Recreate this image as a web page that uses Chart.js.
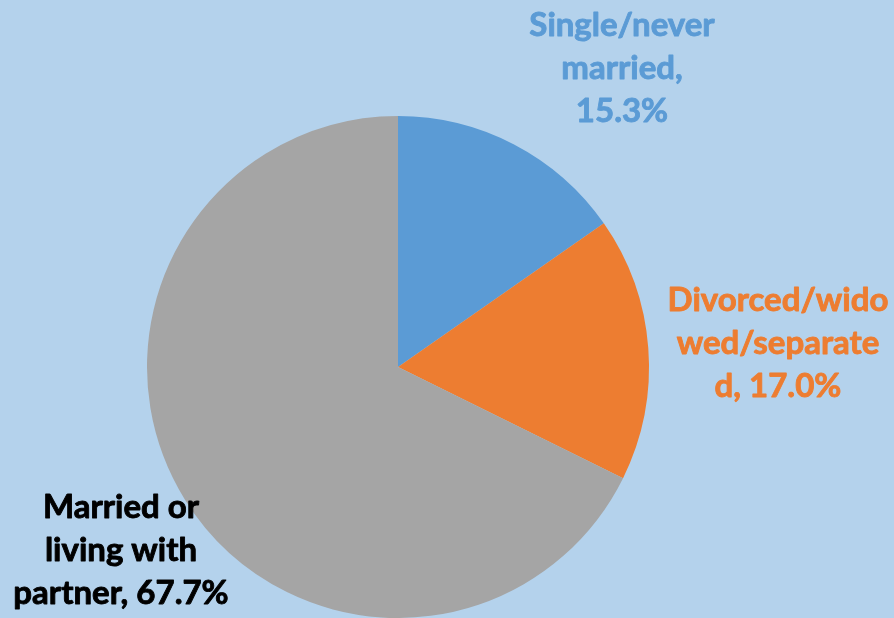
<!DOCTYPE html>
<html>
<head>
<meta charset="utf-8">
<script src="https://cdn.jsdelivr.net/npm/chart.js@4/dist/chart.umd.min.js"></script>
<style>
  html, body { margin: 0; padding: 0; background: #b4d2ec; }
  #wrap { width: 894px; height: 618px; position: relative; }
</style>
</head>
<body>
<div id="wrap"><canvas id="myChart" width="894" height="618"></canvas></div>
<script>
// data
var categories = ['Single/never married', 'Divorced/widowed/separated', 'Married or living with partner'];
var shares = [15.3, 17.0, 67.7];
var sliceColors = ['#5b9bd5', '#ed7d31', '#a5a5a5'];
var labelColors = ['#5b9bd5', '#ed7d31', '#000000'];
// label lines as wrapped in the picture
var labelLines = [
  ['Single/never', 'married,', '15.3%'],
  ['Divorced/wido', 'wed/separate', 'd, 17.0%'],
  ['Married or', 'living with', 'partner, 67.7%']
];
// label centre offsets from the pie centre (x, first line y)
var labelPos = [[224, -342], [380, -67], [-277, 140]];

const ctx = document.getElementById('myChart');

var bgPlugin = {
  id: 'bg',
  beforeDraw: function (chart) {
    var c = chart.ctx;
    c.save();
    c.fillStyle = '#b4d2ec';
    c.fillRect(0, 0, chart.width, chart.height);
    c.restore();
  }
};

var labelPlugin = {
  id: 'sliceLabels',
  afterDraw: function (chart) {
    var c = chart.ctx;
    var arc = chart.getDatasetMeta(0).data[0];
    var cx = arc.x, cy = arc.y;
    c.save();
    c.font = 'bold 33px Lato';
    c.textAlign = 'center';
    c.textBaseline = 'middle';
    c.lineWidth = 0.9;
    c.lineJoin = 'round';
    for (var i = 0; i < labelLines.length; i++) {
      c.fillStyle = labelColors[i];
      c.strokeStyle = labelColors[i];
      for (var j = 0; j < labelLines[i].length; j++) {
        var y = cy + labelPos[i][1] + j * 43;
        c.fillText(labelLines[i][j], cx + labelPos[i][0], y);
        c.strokeText(labelLines[i][j], cx + labelPos[i][0], y);
      }
    }
    c.restore();
  }
};

var myChart1 = new Chart(ctx, {
  type: 'pie',
  data: {
    labels: categories,
    datasets: [{
      data: shares,
      backgroundColor: sliceColors,
      borderWidth: 0
    }]
  },
  options: {
    responsive: false,
    animation: false,
    layout: { padding: { left: 147, right: 245, top: 116, bottom: 0 } },
    plugins: {
      legend: { display: false },
      tooltip: { enabled: false }
    }
  },
  plugins: [bgPlugin, labelPlugin]
});
</script>
</body>
</html>
